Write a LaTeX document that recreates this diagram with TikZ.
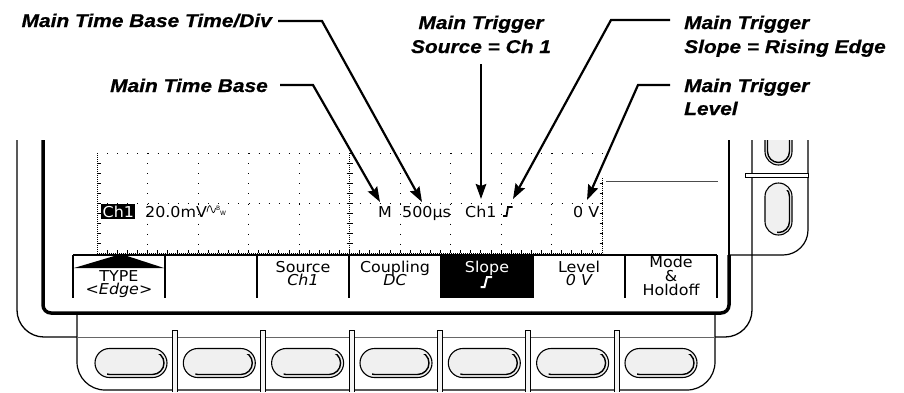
\documentclass[tikz,border=0pt]{standalone}
\usepackage{fontspec}
\setmainfont{DejaVu Sans}
\newfontfamily\lblfont[FakeStretch=1.13, BoldItalicFeatures={FakeBold=0.7}]{Liberation Sans}
\newfontfamily\scrfont[FakeStretch=1.06]{DejaVu Sans}
\usetikzlibrary{arrows.meta}
\begin{document}
\begin{tikzpicture}[x=1pt,y=-1pt,
  lbl/.style={font=\lblfont\bfseries\itshape\fontsize{18.5}{22}\selectfont, inner sep=0pt},
  callout/.style={line width=2.2pt, -{Stealth[length=15pt,width=10.5pt,inset=2pt]}},
  scr/.style={font=\scrfont\fontsize{15}{17}\selectfont, inner sep=0pt},
  menu/.style={font=\scrfont\fontsize{15}{13}\selectfont, align=center, inner sep=0pt, anchor=north},
  grat/.style={line width=0.8pt, dash pattern=on 0.8pt off 9.3pt},
  dense/.style={line width=0.8pt, dash pattern=on 0.8pt off 1.2pt},
  btn/.style={draw, line width=1.1pt, fill=black!6},
]
\useasboundingbox (0,0) rectangle (904,392);

% ---------- graticule ----------
\foreach \k in {1,2,3,4,6,7,8,9} \draw[grat] (97+50.5*\k,153) -- (97+50.5*\k,253);
\draw[grat] (97,153) -- (603,153);
\draw[grat] (97,203) -- (603,203);
\draw[dense] (97,153) -- (97,253);
\foreach \y in {163,173,...,243} \draw[line width=0.8pt] (97,\y) -- (101,\y);
\draw[dense] (97,253) -- (603,253);
\foreach \i in {1,...,49} \draw[line width=0.8pt] (97+10.1*\i,253) -- ++(0,-3);
\draw[dense] (349.5,153) -- (349.5,253);
\foreach \y in {163,173,...,243} \draw[line width=0.8pt] (346.5,\y) -- (352.5,\y);
\draw[dense] (602.5,178) -- (602.5,253);
\foreach \y in {183,193,...,243} \draw[line width=0.8pt] (599.5,\y) -- (602.5,\y);
\draw[line width=0.8pt, black!70] (606,181) -- (718,181);

% ---------- screen readouts ----------
\node[scr, fill=black, text=white, inner xsep=1.5pt, inner ysep=1.5pt, anchor=base west] (ch1) at (101,217) {Ch1};
\node[scr, anchor=base west] (volts) at (145,217) {20.0mV};
\draw[line width=0.7pt] (207,212) .. controls (208.5,204) and (210.5,204) .. (211.5,209) .. controls (212.5,214) and (214.5,214) .. (215.5,208);
\node[font=\fontsize{6}{6}\selectfont, inner sep=0pt, anchor=base west] (bwb) at (216,210) {B};
\node[font=\fontsize{6}{6}\selectfont, inner sep=0pt, anchor=base west] (bww) at (220,215) {W};
\node[scr, anchor=base west] (mtb) at (378,217) {M};
\node[scr, anchor=base west] (tdiv) at (402,217) {500µs};
\node[scr, anchor=base west] (tsrc) at (465,217) {Ch1};
\draw[line width=1.8pt] (503,216) -- (506.5,216) -- (508,207) -- (512.5,207);
\coordinate (tslp) at (508,207);
\node[scr, anchor=base west] (tlev) at (573,217) {0 V};

% ---------- menu ----------
\fill (441,255) rectangle (533,298);
\draw[line width=1.3pt] (73,255) -- (717,255);
\foreach \x in {73,165,257,349,441,533,625,717} \draw[line width=1.3pt] (\x,255) -- (\x,298);
\fill (74,268) -- (121,254) -- (164,268) -- cycle;
\begin{scope}
\clip (73,255) rectangle (717,298);
\node[menu] (mtype) at (119,270) {TYPE\\\itshape <Edge>};
\node[menu] (msrc) at (303,261) {Source\\\itshape Ch1};
\node[menu] (mcpl) at (395,261) {Coupling\\[-2.4pt]\itshape DC};
\node[menu, text=white] (mslp) at (487,261) {Slope};
\node[menu] (mlev) at (579,261) {Level\\\itshape 0 V};
\node[menu, font=\scrfont\fontsize{15}{14}\selectfont] (mmode) at (671,255.5) {Mode\\\&\\Holdoff};
\end{scope}
\draw[white, line width=2pt] (480.5,287) -- (484.5,287) -- (487,277) -- (492,277);

% ---------- bezel ----------
\draw[line width=1.3pt, rounded corners=27pt] (17,140) -- (17,337) -- (77,337);
\draw[line width=1.3pt, rounded corners=27pt] (752,140) -- (752,337) -- (715,337);
\draw[line width=3.5pt, rounded corners=8pt] (43,140) -- (43,313) -- (729,313) -- (729,255);
\draw[line width=2pt] (729,255) -- (729,140);

% ---------- bottom button panel ----------
\draw[line width=1.2pt, rounded corners=28pt] (77,313) -- (77,390) -- (715,390) -- (715,313);
\draw[line width=0.8pt, black!60] (77,337) -- (715,337);
\foreach \x in {175,263,352,440,528,617}
  \draw[line width=0.8pt, fill=black!4] (\x-2.5,392) -- (\x-2.5,330) -- (\x+2.5,330) -- (\x+2.5,392);
\foreach \cx in {131,219.3,307.6,396,484.3,572.6,661} {
  \draw[btn, rounded corners=14.5pt] (\cx-36,348.5) rectangle (\cx+36,377.5);
  \begin{scope}
    \clip (\cx-24,354) rectangle (\cx+40,382);
    \draw[line width=1.4pt, rounded corners=11.5pt] (\cx-33,351.5) rectangle (\cx+33,374.5);
  \end{scope}
}

% ---------- right button panel ----------
\draw[line width=1.2pt, rounded corners=25pt] (808,140) -- (808,255) -- (729,255);
\draw[line width=0.8pt, fill=white] (745,173) rectangle (808,177);
\begin{scope}
  \clip (752,140) rectangle (808,172);
  \draw[btn, rounded corners=13.5pt] (765,113) rectangle (792,165);
  \draw[line width=1.4pt, rounded corners=11pt] (767.5,115.5) rectangle (789.5,162.5);
\end{scope}
\draw[btn, rounded corners=13.5pt] (765,183) rectangle (792,235);
\begin{scope}
  \clip (777,190) rectangle (796,240);
  \draw[line width=1.4pt, rounded corners=11pt] (767.5,185.5) rectangle (789.5,232.5);
\end{scope}

% ---------- callout labels ----------
\node[lbl, anchor=base east] (ltbt) at (272,27) {Main Time Base Time/Div};
\node[lbl, anchor=base east] (ltb) at (268,92) {Main Time Base};
\node[lbl, anchor=base] (src1) at (481,29) {Main Trigger};
\node[lbl, anchor=base] (src2) at (481,53) {Source = Ch 1};
\node[lbl, anchor=base west] (slp1) at (684,29) {Main Trigger};
\node[lbl, anchor=base west] (slp2) at (684,53) {Slope = Rising Edge};
\node[lbl, anchor=base west] (lev1) at (684,92) {Main Trigger};
\node[lbl, anchor=base west] (lev2) at (684,115) {Level};

% ---------- callout connectors ----------
\coordinate (b1) at (322,21);
\coordinate (t1) at (422,202);
\coordinate (s1) at ([xshift=6pt]ltbt.east);
\draw[callout] (s1 |- b1) -- (b1) -- (t1);

\coordinate (b2) at (313,85);
\coordinate (t2) at (380,202);
\coordinate (s2) at ([xshift=12pt]ltb.east);
\draw[callout] (s2 |- b2) -- (b2) -- (t2);

\coordinate (t3) at (481,199);
\path (src2.south) ++(0,11) coordinate (s3);
\draw[callout] (s3 -| t3) -- (t3);

\coordinate (b4) at (611,20);
\coordinate (t4) at (513,199);
\coordinate (s4) at ([xshift=-14pt]slp1.west);
\draw[callout] (s4 |- b4) -- (b4) -- (t4);

\coordinate (b5) at (638,85);
\coordinate (t5) at (587,200);
\coordinate (s5) at ([xshift=-14pt]lev1.west);
\draw[callout] (s5 |- b5) -- (b5) -- (t5);
\end{tikzpicture}
\end{document}
